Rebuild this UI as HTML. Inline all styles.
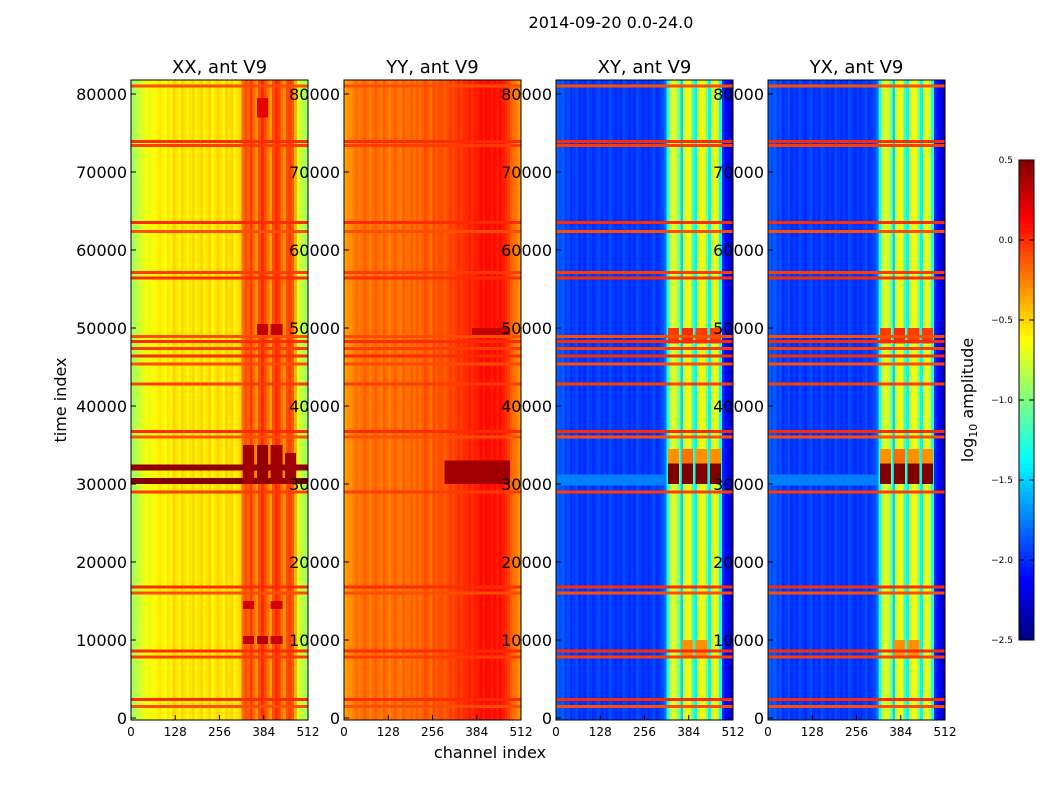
<!DOCTYPE html>
<html><head><meta charset="utf-8"><style>
body{margin:0;background:#fff;font-family:"Liberation Sans","DejaVu Sans",sans-serif}
svg text{font-family:"DejaVu Sans","Liberation Sans",sans-serif}
</style></head><body>
<svg id="fig" width="1050" height="800" xmlns="http://www.w3.org/2000/svg">
<rect width="1050" height="800" fill="#fff"/>
<text x="611" y="28" font-size="16" text-anchor="middle">2014-09-20 0.0-24.0</text>
<text x="490" y="758" font-size="16" text-anchor="middle">channel index</text>
<text transform="translate(66,400) rotate(-90)" font-size="16" text-anchor="middle">time index</text>
<text transform="translate(973,400) rotate(-90)" font-size="16" text-anchor="middle">log<tspan font-size="11" dy="4">10</tspan><tspan dy="-4"> amplitude</tspan></text>
<g id="panels"></g>
<g id="cbar"></g>
</svg>
<script>
// ---- data ----
const panelTitles = ["XX, ant V9","YY, ant V9","XY, ant V9","YX, ant V9"];
const panelLeft = [131, 344, 556, 768];
// 64 channel bins (8 channels each), log10 amplitude
const colXX = [-0.9,-0.85,-0.8,-0.75,-0.7,-0.65,-0.7,-0.6,-0.65,-0.6,-0.55,-0.6,-0.65,-0.55,-0.6,-0.5,
  -0.55,-0.6,-0.5,-0.55,-0.6,-0.55,-0.5,-0.6,-0.55,-0.5,-0.6,-0.55,-0.5,-0.6,-0.55,-0.5,
  -0.55,-0.6,-0.5,-0.55,-0.5,-0.6,-0.55,-0.5,-0.2,-0.1,-0.15,-0.05,-0.2,-0.3,-0.1,0.0,
  -0.1,-0.2,-0.35,-0.1,0.0,-0.05,-0.2,-0.3,-0.1,-0.05,-0.15,-0.4,-0.7,-0.8,-0.85,-0.9];
const colYY = [-0.35,-0.3,-0.3,-0.25,-0.2,-0.25,-0.2,-0.15,-0.2,-0.25,-0.2,-0.15,-0.2,-0.25,-0.15,-0.2,
  -0.25,-0.2,-0.15,-0.2,-0.25,-0.15,-0.2,-0.2,-0.15,-0.2,-0.15,-0.2,-0.15,-0.1,-0.15,-0.2,
  -0.1,-0.15,-0.1,-0.1,-0.15,-0.1,-0.05,-0.1,-0.05,0.0,-0.05,0.0,0.0,0.05,0.0,0.05,
  0.05,0.1,0.05,0.1,0.1,0.05,0.1,0.05,0.1,0.05,0.0,-0.05,-0.15,-0.2,-0.25,-0.3];
const colXY = [-1.85,-1.9,-1.85,-1.95,-1.9,-2.0,-1.95,-1.9,-2.0,-1.95,-2.0,-1.9,-1.95,-2.0,-1.95,-1.9,
  -2.0,-1.95,-2.0,-1.9,-1.95,-2.0,-1.95,-2.0,-1.9,-1.95,-2.0,-1.95,-2.0,-1.9,-1.95,-2.0,
  -1.95,-2.0,-1.95,-1.9,-2.0,-1.95,-1.9,-1.8,-1.3,-0.8,-0.7,-0.8,-1.0,-1.5,-0.8,-0.6,
  -0.7,-1.2,-1.4,-0.8,-0.6,-0.7,-1.0,-1.4,-0.8,-0.6,-0.8,-1.3,-2.0,-2.1,-2.2,-2.3];
const colYX = colXY;
const panelCols = [colXX, colYY, colXY, colYX];
// flagged rows (time index)
const flagRows = [1500,2400,7800,8600,16000,16800,29000,36000,36700,42800,45400,46400,47400,48300,48900,56400,57100,62400,63500,73400,73900,81000];
const flagValue = [-0.1,0.0,-0.05,0.0,-0.1,0.0,-0.05,-0.1,0.0,-0.05,-0.1,0.0,-0.05,0.0,-0.1,0.0,-0.05,-0.1,0.0,-0.05,0.0,-0.1];
// events: [startTime, endTime, startChan, endChan, value]
const eventsXX = [[30000,30800,0,512,0.5],[31700,32500,0,512,0.45],
  [30000,35000,324,356,0.4],[30000,35000,364,396,0.45],[30000,35000,404,438,0.4],[30000,34000,446,478,0.4],
  [9500,10500,324,356,0.3],[9500,10500,364,396,0.35],[9500,10500,404,438,0.3],
  [14000,15000,324,356,0.25],[14000,15000,404,438,0.25],
  [49000,50500,364,396,0.3],[49000,50500,404,438,0.3],[77000,79500,364,396,0.2]];
const eventsYY = [[30000,33000,290,480,0.4],[49000,50000,370,480,0.3]];
const eventsXY = [[29800,31200,0,320,-1.75],
  [32600,34500,324,356,-0.3],[32600,34500,364,396,-0.2],[32600,34500,404,438,-0.3],[32600,34500,446,478,-0.3],
  [30000,32600,324,356,0.5],[30000,32600,364,396,0.5],[30000,32600,404,438,0.5],[30000,32600,446,478,0.5],
  [48000,50000,324,356,-0.05],[48000,50000,364,396,0.0],[48000,50000,404,438,-0.05],[48000,50000,446,478,-0.05],
  [8000,10000,364,396,-0.3],[8000,10000,404,438,-0.3]];
const eventsYX = eventsXY;
const panelEvents = [eventsXX, eventsYY, eventsXY, eventsYX];
const yTicks = [0,10000,20000,30000,40000,50000,60000,70000,80000];
const xTicks = [0,128,256,384,512];
const cbTicks = [0.5,0.0,-0.5,-1.0,-1.5,-2.0,-2.5];
const cbLabels = ["0.5","0.0","\u22120.5","\u22121.0","\u22121.5","\u22122.0","\u22122.5"];

// ---- scales ----
const pw = 177, plotTop = 80, plotBottom = 720;
const ys = t => 718 - t * 0.0078;
const tMax = (718 - plotTop) / 0.0078;
const xs = (left, c) => left + c * pw / 512;
function jet(v){
  let t = (v + 2.5) / 3; t = Math.max(0, Math.min(1, t));
  const f = x => Math.round(255 * Math.max(0, Math.min(1, 1.5 - Math.abs(x))));
  return `rgb(${f(4*t-3)},${f(4*t-2)},${f(4*t-1)})`;
}
const NS = "http://www.w3.org/2000/svg";
function mk(tag, attrs, parent){ const e = document.createElementNS(NS, tag); for (const k in attrs) e.setAttribute(k, attrs[k]); parent.appendChild(e); return e; }

const G = document.getElementById("panels");
panelTitles.forEach((title, p) => {
  const left = panelLeft[p];
  const g = mk("g", {"shape-rendering":"crispEdges"}, G);
  
  
  const cols = panelCols[p];
  const bw = 512 / cols.length;
  cols.forEach((v, i) => {
    const r = mk("rect", {x: xs(left, i*bw), y: plotTop, width: pw/cols.length + 0.5, height: plotBottom - plotTop, fill: jet(v)}, g);
    
    
  });
  panelEvents[p].forEach(ev => {
    const y1 = ys(Math.min(ev[1], tMax)), y2 = ys(ev[0]);
    const r = mk("rect", {x: xs(left, ev[2]), y: y1, width: xs(left, ev[3]) - xs(left, ev[2]), height: y2 - y1, fill: jet(ev[4])}, g);
    
    
  });
  flagRows.forEach((t, i) => {
    const r = mk("rect", {x: left, y: ys(t) - 1.5, width: pw, height: 3, fill: jet(flagValue[i])}, g);
    
    
  });
  const fr = mk("rect", {x: left, y: plotTop, width: pw, height: plotBottom - plotTop, fill: "none", stroke: "#000", "stroke-width": 1}, g);
  
  
  const tt = mk("text", {x: left + pw/2, y: 73, "font-size": 18, "text-anchor": "middle"}, G);
  tt.textContent = title;
  
  
  yTicks.forEach(t => {
    const tx = mk("text", {x: left - 4, y: ys(t) + 6, "font-size": 16, "text-anchor": "end"}, G);
    tx.textContent = t;
    
    
    mk("line", {x1: left, x2: left + 5, y1: ys(t), y2: ys(t), stroke: "#000"}, G);
  });
  xTicks.forEach(c => {
    const tx = mk("text", {x: xs(left, c), y: 736, "font-size": 12, "text-anchor": "middle"}, G);
    tx.textContent = c;
    
    
    mk("line", {x1: xs(left, c), x2: xs(left, c), y1: plotBottom, y2: plotBottom - 5, stroke: "#000"}, G);
  });
});

const C = document.getElementById("cbar");
const cbY = v => 160 + (0.5 - v) / 3 * 480;
for (let i = 0; i < 120; i++) {
  const v = 0.5 - (i + 0.5) * 3 / 120;
  const r = mk("rect", {x: 1019, y: 160 + i*4, width: 15, height: 4.5, fill: jet(v), "shape-rendering": "crispEdges"}, C);
  
  
}
const cf = mk("rect", {x: 1019, y: 160, width: 15, height: 480, fill: "none", stroke: "#000"}, C);


cbTicks.forEach((v, i) => {
  const tx = mk("text", {x: 1013, y: cbY(v) + 3, "font-size": 9, "text-anchor": "end"}, C);
  tx.textContent = cbLabels[i];
  
  
  mk("line", {x1: 1019, x2: 1024, y1: cbY(v), y2: cbY(v), stroke: "#000"}, C);
  mk("line", {x1: 1029, x2: 1034, y1: cbY(v), y2: cbY(v), stroke: "#000"}, C);
});
</script>
</body></html>
